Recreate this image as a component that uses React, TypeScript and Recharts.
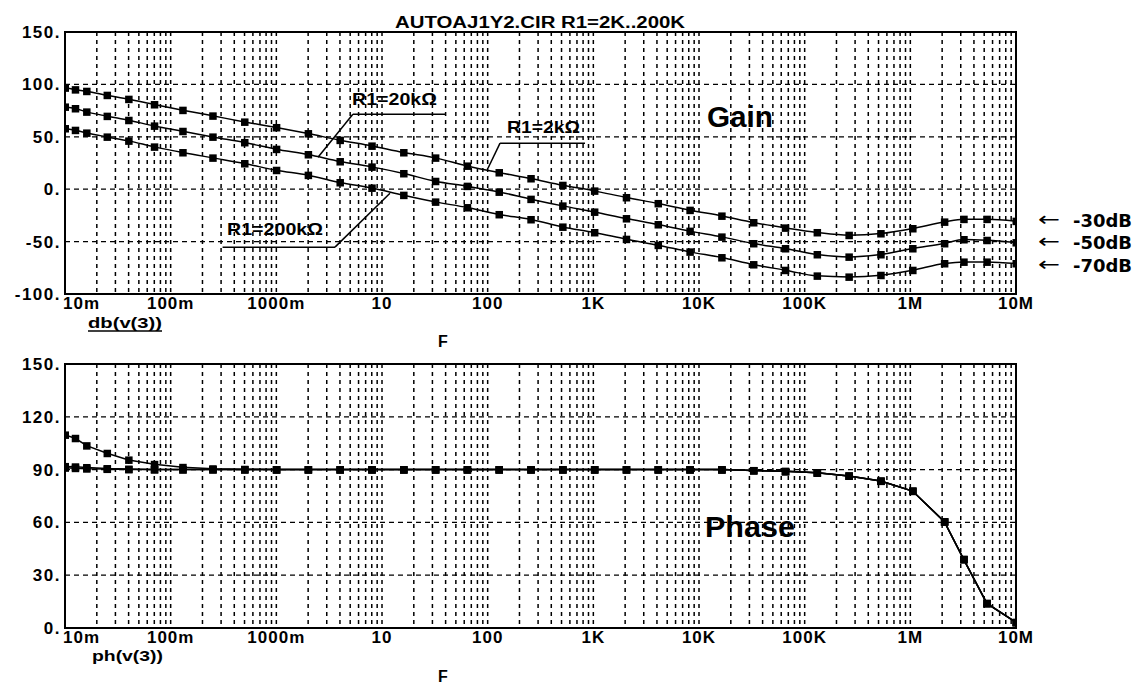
import { CartesianGrid, Line, LineChart, ReferenceArea, ReferenceLine, XAxis, YAxis } from "recharts";

// frequency points (Hz) where the simulator put its markers
const FREQ = [
  0.01, 0.0125, 0.016, 0.025, 0.04, 0.07, 0.13, 0.25, 0.5, 1, 2, 4, 8, 16, 32, 64, 128, 256, 512,
  1024, 2048, 4096, 8192, 16384, 32768, 65536, 131072, 262144, 524288, 1.05e6, 2.1e6, 3.2e6, 5.3e6, 1e7,
];

// db(v(3)) for R1 = 2k, 20k, 200k
const GAIN_2K = [
  96.7, 95, 93.5, 89.7, 85.9, 80.8, 75.4, 70, 64.2, 58.9, 53.1, 46.8, 41.3, 35, 29.9, 22.2, 15.9, 10.2, 3.8,
  -1.6, -7.9, -13.6, -20, -25.5, -31.8, -36.9, -41.3, -43.9, -42.3, -37.5, -31.2, -28.6, -28.6, -30.5,
];
const GAIN_20K = [
  78.5, 77, 73.8, 69.7, 65.8, 60.4, 55.3, 49.9, 44.6, 38.2, 33.1, 26.4, 21.3, 15, 7.6, 2.9, -2.6, -9.5, -15.9,
  -21.7, -28, -33.7, -40, -45.5, -51.8, -56.6, -62.3, -64.6, -62.3, -56.6, -51.8, -48, -48.7, -50.9,
];
const GAIN_200K = [
  57.9, 56.3, 53.7, 49.9, 46.1, 40.4, 35, 29.9, 24.5, 18.1, 13.4, 6.4, 1.2, -5.7, -12.1, -17.5, -24.1, -28.9, -36,
  -41.3, -47.7, -53.4, -59.8, -65.2, -71.9, -77.3, -82.7, -83.7, -82.1, -77.3, -70.9, -69.4, -69.4, -70.9,
];

// ph(v(3)) for the same three runs
const PHASE_2K = [
  109.7, 107.8, 103.6, 99.3, 95.5, 93, 91.3, 90.5, 90.2, 90, 90, 90, 90, 90, 90, 90, 90, 90, 90,
  90, 90, 90, 90, 90, 89.5, 89, 88.2, 86.4, 83.5, 77.8, 60.4, 39, 14, 3.2,
];
const PHASE_20K = [
  91.8, 91.6, 91.2, 90.6, 90.3, 90.1, 90, 90, 90, 90, 90, 90, 90, 90, 90, 90, 90, 90, 90,
  90, 90, 90, 90, 90, 89.5, 89, 88.2, 86.4, 83.5, 77.8, 60.4, 39, 14, 3.2,
];
const PHASE_200K = [
  91, 90.8, 90.5, 90.3, 90.1, 90, 90, 90, 90, 90, 90, 90, 90, 90, 90, 90, 90, 90, 90,
  90, 90, 90, 90, 90, 89.5, 89, 88.2, 86.4, 83.5, 77.8, 60.4, 39, 14, 3.2,
];

const DECADES = [0.01, 0.1, 1, 10, 100, 1e3, 1e4, 1e5, 1e6, 1e7];
const DECADE_LABELS = ["10m", "100m", "1000m", "10", "100", "1K", "10K", "100K", "1M", "10M"];
const GAIN_TICKS = [-100, -50, 0, 50, 100, 150];
const PHASE_TICKS = [0, 30, 60, 90, 120, 150];

// leader lines for the R1 labels, in (Hz, dB)
const LEADER_20K = [
  { x: 2.48, y: 30.5 },
  { x: 5.3, y: 71.6 },
  { x: 39.5, y: 71.6 },
];
const LEADER_2K = [
  { x: 100.7, y: 20 },
  { x: 131, y: 43.9 },
  { x: 834, y: 43.9 },
];
const LEADER_200K = [
  { x: 0.31, y: -55.3 },
  { x: 3.59, y: -55.3 },
  { x: 11.9, y: -3.8 },
];

const gainData = FREQ.map((f, i) => ({ f, a: GAIN_2K[i], b: GAIN_20K[i], c: GAIN_200K[i] }));
const phaseData = FREQ.map((f, i) => ({ f, a: PHASE_2K[i], b: PHASE_20K[i], c: PHASE_200K[i] }));

const gridX: number[] = [];
DECADES.forEach((d, i) => {
  gridX.push(d);
  if (i < DECADES.length - 1) for (let k = 2; k <= 9; k++) gridX.push(+(d * k).toPrecision(6));
});

const FONT = "'Liberation Sans', Arial, sans-serif";

function XTick(props: any) {
  const { x, y, payload } = props;
  const idx = DECADES.findIndex((d) => Math.abs(d - payload.value) / d < 1e-6);
  if (idx < 0) return <g />;
  return (
    <text
      x={idx === 0 ? x - 2 : x}
      y={y}
      dy={7}
      textAnchor={idx === 0 ? "start" : "middle"}
      fontFamily={FONT}
      fontWeight="bold"
      fontSize={17}
      letterSpacing={1}
      fill="#000"
    >
      {DECADE_LABELS[idx]}
    </text>
  );
}

function YTick(props: any) {
  const { x, y, payload } = props;
  return (
    <text
      x={x + 4}
      y={y}
      dy={6}
      textAnchor="end"
      fontFamily={FONT}
      fontWeight="bold"
      fontSize={17}
      letterSpacing={1.5}
      fill="#000"
    >
      {payload.value + "."}
    </text>
  );
}

const square = (p: any) => (
  <rect key={p.index} x={p.cx - 3.5} y={p.cy - 3.5} width={7.5} height={7.5} fill="#000" />
);

function Leader({ pts }: { pts: { x: number; y: number }[] }) {
  return (
    <>
      {pts.slice(1).map((p, i) => (
        <ReferenceLine key={i} segment={[pts[i], p]} stroke="#000" strokeWidth={1.5} />
      ))}
    </>
  );
}

function Plot({
  data,
  ticks,
  height,
  top,
  xAxisHeight,
  leaders,
  curve,
}: {
  data: any[];
  ticks: number[];
  height: number;
  top: number;
  xAxisHeight: number;
  leaders?: boolean;
  curve: "monotone" | "linear";
}) {
  const lo = ticks[0];
  const hi = ticks[ticks.length - 1];
  return (
    <LineChart width={1137} height={height} data={data} margin={{ top, right: 121, bottom: 0, left: 0 }}>
      <CartesianGrid vertical={false} stroke="#000" strokeDasharray="5 4" strokeWidth={1.2} />
      <CartesianGrid horizontal={false} stroke="#000" strokeDasharray="4 4" strokeWidth={1.5} />
      <XAxis
        dataKey="f"
        type="number"
        scale="log"
        domain={[0.01, 1e7]}
        ticks={gridX}
        interval={0}
        allowDataOverflow
        tickLine={false}
        axisLine={false}
        height={xAxisHeight}
        tick={<XTick />}
      />
      <YAxis
        type="number"
        domain={[lo, hi]}
        ticks={ticks}
        interval={0}
        tickLine={false}
        axisLine={false}
        width={65}
        tick={<YTick />}
      />
      <ReferenceArea x1={0.01} x2={1e7} y1={lo} y2={hi} fill="none" stroke="#000" strokeWidth={2} />
      {leaders && <Leader pts={LEADER_20K} />}
      {leaders && <Leader pts={LEADER_2K} />}
      {leaders && <Leader pts={LEADER_200K} />}
      {["a", "b", "c"].map((k) => (
        <Line
          key={k}
          dataKey={k}
          type={curve}
          stroke="#000"
          strokeWidth={1.5}
          dot={square}
          activeDot={false}
          isAnimationActive={false}
        />
      ))}
    </LineChart>
  );
}

export default function App() {
  const t = { fontFamily: FONT, fontWeight: "bold" as const, fill: "#000" };
  return (
    <div style={{ position: "absolute", left: 0, top: 0, width: 1137, height: 687, background: "#fff" }}>
      <div style={{ position: "absolute", left: 0, top: 0 }}>
        <Plot data={gainData} ticks={GAIN_TICKS} height={340} top={32} xAxisHeight={46} leaders curve="monotone" />
      </div>
      <div style={{ position: "absolute", left: 0, top: 340 }}>
        <Plot data={phaseData} ticks={PHASE_TICKS} height={347} top={24} xAxisHeight={59} curve="linear" />
      </div>
      <svg
        width={1137}
        height={687}
        style={{ position: "absolute", left: 0, top: 0, pointerEvents: "none" }}
      >
        <text x={395} y={28} fontSize={16} textLength={290} lengthAdjust="spacingAndGlyphs" {...t}>
          AUTOAJ1Y2.CIR R1=2K..200K
        </text>
        <text x={352} y={105} fontSize={17} textLength={85} lengthAdjust="spacingAndGlyphs" {...t}>
          R1=20kΩ
        </text>
        <text x={507} y={133} fontSize={17} textLength={73} lengthAdjust="spacingAndGlyphs" {...t}>
          R1=2kΩ
        </text>
        <text x={227} y={235} fontSize={17} textLength={96} lengthAdjust="spacingAndGlyphs" {...t}>
          R1=200kΩ
        </text>
        <text x={707} y={127} fontSize={29} textLength={66} lengthAdjust="spacingAndGlyphs" {...t}>
          Gain
        </text>
        <text x={705} y={537} fontSize={29} textLength={90} lengthAdjust="spacingAndGlyphs" {...t}>
          Phase
        </text>
        <text x={88} y={328} fontSize={15} textLength={74} lengthAdjust="spacingAndGlyphs" {...t}>
          db(v(3))
        </text>
        <line x1={88} x2={162} y1={331} y2={331} stroke="#000" strokeWidth={1.5} />
        <text x={92} y={661} fontSize={15} textLength={71} lengthAdjust="spacingAndGlyphs" {...t}>
          ph(v(3))
        </text>
        <text x={443} y={347} fontSize={16} textAnchor="middle" {...t}>
          F
        </text>
        <text x={443} y={682} fontSize={16} textAnchor="middle" {...t}>
          F
        </text>
        {[
          ["-30dB", 227],
          ["-50dB", 249],
          ["-70dB", 272],
        ].map(([s, y]) => (
          <g key={s as string}>
            <text
              x={1038}
              y={(y as number) - 1}
              fontSize={20}
              textLength={22}
              lengthAdjust="spacingAndGlyphs"
              fontFamily="'DejaVu Sans', sans-serif"
              fill="#000"
            >
              ←
            </text>
            <text
              x={1073}
              y={y as number}
              fontSize={18}
              textLength={59}
              lengthAdjust="spacingAndGlyphs"
              fontFamily="'DejaVu Sans Condensed', 'DejaVu Sans', sans-serif"
              fontWeight="bold"
              fill="#000"
            >
              {s}
            </text>
          </g>
        ))}
      </svg>
    </div>
  );
}
